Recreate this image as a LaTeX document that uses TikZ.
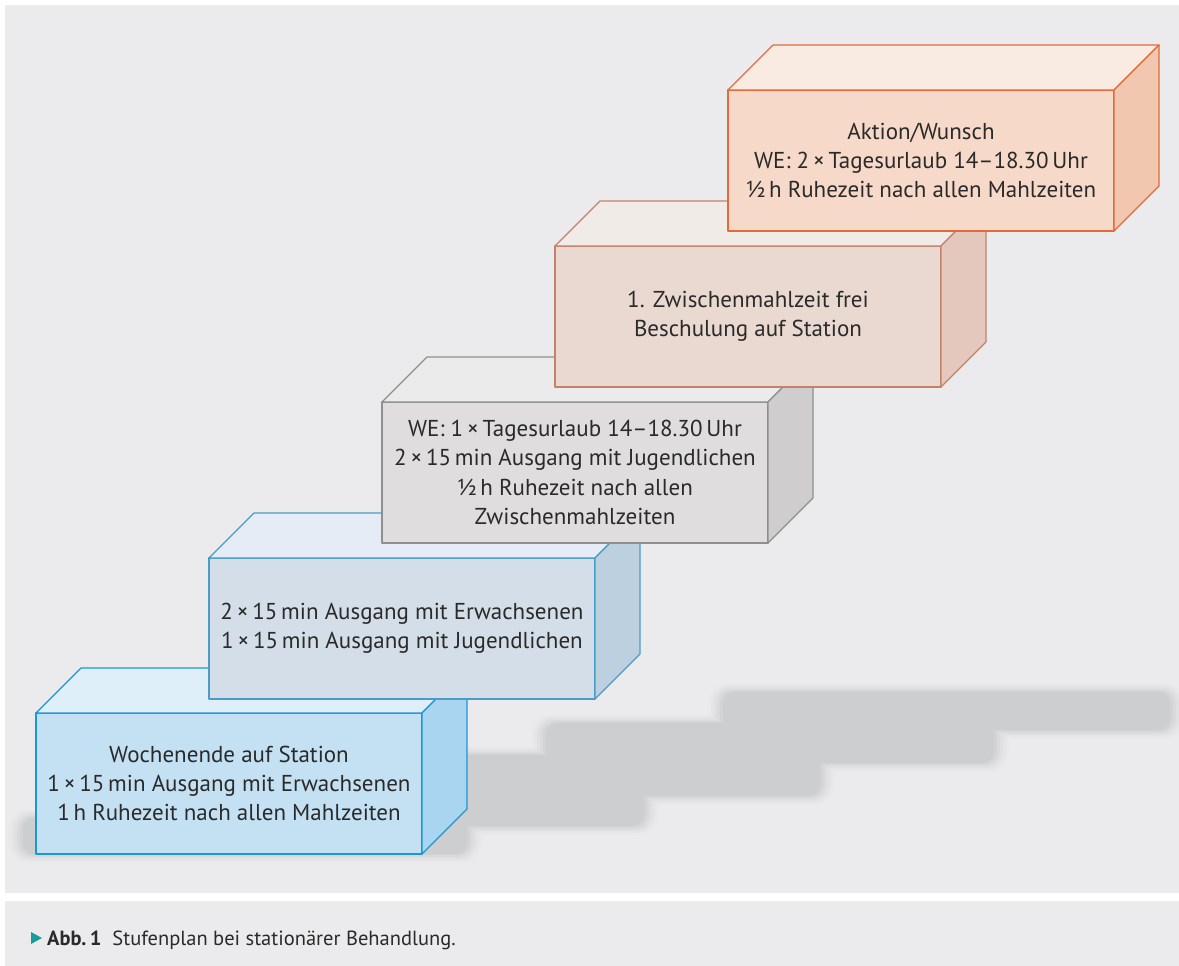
\documentclass[tikz,border=0pt]{standalone}
\usepackage{fontspec}
\setmainfont{PT Sans}
\definecolor{bgc}{HTML}{EBEBED}
\definecolor{shadowc}{HTML}{CDCED0}
\definecolor{txt}{HTML}{2A2A2A}
\definecolor{capc}{HTML}{1B9B9B}
% box 1 (blue)
\definecolor{fA}{HTML}{C4E1F4}\definecolor{tA}{HTML}{DFEFFA}\definecolor{sA}{HTML}{A9D5F0}\definecolor{bA}{HTML}{1A98D5}
% box 2 (grey-blue)
\definecolor{fB}{HTML}{D3DEE8}\definecolor{tB}{HTML}{E6ECF5}\definecolor{sB}{HTML}{BDD0E0}\definecolor{bB}{HTML}{4A9CC6}
% box 3 (grey)
\definecolor{fC}{HTML}{DFDDDE}\definecolor{tC}{HTML}{EBEBEB}\definecolor{sC}{HTML}{D0CDCF}\definecolor{bC}{HTML}{8F8F8F}
% box 4 (pale rose)
\definecolor{fD}{HTML}{EAD9D1}\definecolor{tD}{HTML}{F1EBE7}\definecolor{sD}{HTML}{E4C8BD}\definecolor{bD}{HTML}{C4826A}
% box 5 (salmon)
\definecolor{fE}{HTML}{F6D9C8}\definecolor{tE}{HTML}{FAEBE2}\definecolor{sE}{HTML}{F2C7B0}\definecolor{bE}{HTML}{E36A3B}
\tikzset{
  frontface/.style={draw, line width=1.3pt, line join=round, minimum width=386pt,
    minimum height=141pt, anchor=north west, inner sep=0pt, outer sep=0pt,
    align=center, text=txt, font=\fontsize{23}{29.3}\selectfont},
  facepath/.style={line width=1.3pt, line join=round}
}
\newcommand\stufe[8]{%
  \node[frontface, fill=#4, draw=#7] (#1) at (#2,#3) {#8};
  \filldraw[facepath, fill=#5, draw=#7] (#1.north west) -- ++(45,-45) -- ++(386,0) -- (#1.north east) -- cycle;
  \filldraw[facepath, fill=#6, draw=#7] (#1.north east) -- ++(45,-45) -- ++(0,141) -- (#1.south east) -- cycle;
}
\begin{document}
\begin{tikzpicture}[x=1pt,y=-1pt]
\useasboundingbox (0,0) rectangle (1179,966);
\fill[white] (0,0) rectangle (1179,966);
\fill[bgc] (5,5) rectangle (1179,893);
\fill[bgc] (5,901) rectangle (1179,966);
% soft shadows (layered blur)
\foreach \e/\f/\p in {8/12/8, 6/9/20, 4/6/38, 2/3/60, 0/0/82, -1/-3/100} {
  \foreach \xa/\ya/\xb/\yb in {720/691/1173/731, 543/722/997/764, 370/754/823/797, 195/787/647/827, 20/817/470/855} {
    \fill[shadowc!\p!bgc, rounded corners={13pt+\e pt}] (\xa-\f,\ya-\e) rectangle (\xb+\f,\yb+\e);
  }
}
\stufe{s1}{36}{713}{fA}{tA}{sA}{bA}{Wochenende auf Station\\1\,×\,15\,min Ausgang mit Erwachsenen\\1\,h Ruhezeit nach allen Mahlzeiten}
\stufe{s2}{209}{558}{fB}{tB}{sB}{bB}{2\,×\,15\,min Ausgang mit Erwachsenen\\1\,×\,15\,min Ausgang mit Jugendlichen}
\stufe{s3}{382}{402}{fC}{tC}{sC}{bC}{WE: 1\,×\,Tagesurlaub 14–18.30\,Uhr\\2\,×\,15\,min Ausgang mit Jugendlichen\\½\,h Ruhezeit nach allen\\Zwischenmahlzeiten}
\stufe{s4}{555}{246}{fD}{tD}{sD}{bD}{1. Zwischenmahlzeit frei\\Beschulung auf Station}
\stufe{s5}{728}{90}{fE}{tE}{sE}{bE}{Aktion/Wunsch\\WE: 2\,×\,Tagesurlaub 14–18.30\,Uhr\\½\,h Ruhezeit nach allen Mahlzeiten}
% caption
\fill[capc] (31,932) -- (42,938) -- (31,944) -- cycle;
\node[anchor=base west, inner sep=0pt, text=txt, font=\fontsize{20.5}{24}\selectfont] (cap) at (47,945)
  {\textbf{Abb.\,1}\hspace{11pt}Stufenplan bei stationärer Behandlung.};
\end{tikzpicture}
\end{document}
